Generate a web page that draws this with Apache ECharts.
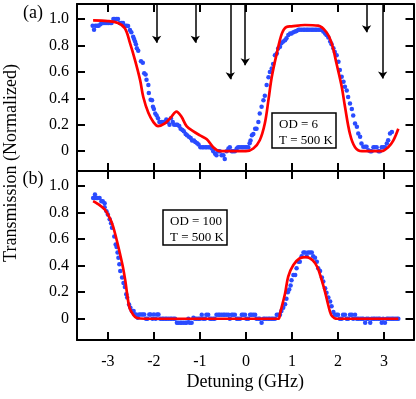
<!DOCTYPE html>
<html>
<head>
<meta charset="utf-8">
<script src="https://cdn.jsdelivr.net/npm/echarts@6/dist/echarts.min.js"></script>
<style>
  html, body { margin: 0; padding: 0; background: #fff; }
  #chart { width: 416px; height: 399px; }
</style>
</head>
<body>
<div id="chart"></div>
<script>
// detuning (GHz), transmission
var xTicks = [-3, -2, -1, 0, 1, 2, 3];
var yTicks = [0, 0.2, 0.4, 0.6, 0.8, 1.0];

// (a) OD = 6 measured points
var topData = [
  [-3.33,0.95],[-3.30,0.92],[-3.27,0.95],[-3.23,0.95],[-3.20,0.95],[-3.16,0.96],[-3.13,0.97],[-3.09,0.97],
  [-3.06,0.97],[-3.02,0.97],[-2.99,0.97],[-2.95,0.97],[-2.92,0.97],[-2.88,1.0],[-2.85,1.0],[-2.81,1.0],
  [-2.78,1.0],[-2.74,0.97],[-2.70,0.97],[-2.67,0.97],[-2.63,0.95],[-2.59,0.95],[-2.56,0.947],[-2.52,0.917],
  [-2.49,0.90],[-2.45,0.866],[-2.43,0.85],[-2.41,0.83],[-2.39,0.81],[-2.37,0.78],[-2.34,0.76],[-2.28,0.68],
  [-2.24,0.67],[-2.21,0.59],[-2.18,0.58],[-2.16,0.54],[-2.12,0.50],[-2.11,0.44],[-2.07,0.39],[-2.04,0.386],
  [-2.02,0.336],[-2.0,0.32],[-1.97,0.285],[-1.94,0.27],[-1.91,0.25],[-1.88,0.22],[-1.84,0.22],[-1.80,0.22],
  [-1.77,0.22],[-1.73,0.24],[-1.70,0.22],[-1.66,0.20],[-1.63,0.25],[-1.59,0.22],[-1.56,0.20],[-1.52,0.20],
  [-1.49,0.20],[-1.45,0.19],[-1.42,0.17],[-1.38,0.16],[-1.35,0.15],[-1.31,0.13],[-1.28,0.12],[-1.24,0.11],
  [-1.20,0.10],[-1.17,0.08],[-1.13,0.08],[-1.10,0.07],[-1.06,0.06],[-1.03,0.05],[-0.99,0.03],[-0.95,0.03],
  [-0.92,0.03],[-0.88,0.03],[-0.85,0.03],[-0.81,0.03],[-0.78,0.03],[-0.74,0.02],[-0.71,0.0],[-0.67,-0.02],
  [-0.64,-0.03],[-0.60,0.0],[-0.57,0.0],[-0.53,-0.03],[-0.49,-0.03],[-0.46,-0.06],[-0.42,0.0],[-0.38,0.02],
  [-0.35,0.03],[-0.31,0.0],[-0.28,0.0],[-0.24,0.0],[-0.20,0.02],[-0.17,0.03],[-0.13,0.03],[-0.09,0.03],
  [-0.06,0.03],[-0.02,0.03],[0.01,0.03],[0.05,0.03],[0.08,0.06],[0.10,0.08],[0.13,0.12],[0.16,0.13],
  [0.20,0.17],[0.23,0.17],[0.27,0.22],[0.30,0.285],[0.34,0.336],[0.38,0.386],[0.41,0.42],[0.45,0.50],
  [0.49,0.56],[0.52,0.60],[0.56,0.626],[0.59,0.66],[0.63,0.727],[0.67,0.74],[0.70,0.777],[0.74,0.79],
  [0.77,0.816],[0.81,0.83],[0.85,0.84],[0.88,0.854],[0.92,0.88],[0.96,0.89],[0.99,0.89],[1.03,0.90],
  [1.07,0.905],[1.10,0.91],[1.14,0.92],[1.17,0.92],[1.21,0.92],[1.25,0.92],[1.28,0.92],[1.32,0.92],
  [1.35,0.92],[1.39,0.92],[1.43,0.92],[1.46,0.92],[1.50,0.92],[1.53,0.92],[1.57,0.92],[1.61,0.92],
  [1.64,0.92],[1.68,0.905],[1.72,0.89],[1.75,0.88],[1.79,0.86],[1.83,0.83],[1.86,0.81],[1.90,0.78],
  [1.93,0.75],[1.97,0.727],[2.01,0.677],[2.04,0.614],[2.08,0.563],[2.12,0.525],[2.15,0.487],[2.19,0.46],
  [2.22,0.41],[2.26,0.36],[2.30,0.32],[2.33,0.27],[2.37,0.21],[2.41,0.184],[2.44,0.134],[2.48,0.11],
  [2.51,0.058],[2.55,0.033],[2.59,0.033],[2.62,0.033],[2.66,0.008],[2.70,0.0],[2.73,0.0],[2.77,0.03],
  [2.80,0.03],[2.84,0.03],[2.88,0.0],[2.91,0.0],[2.95,0.03],[2.99,0.03],[3.02,0.03],[3.06,0.058],
  [3.09,0.083],[3.13,0.134],[3.17,0.146]
];

// (a) model curve
var topFit = [
  [-3.32,0.99],[-3.0,0.985],[-2.78,0.97],[-2.63,0.93],[-2.52,0.82],[-2.41,0.69],[-2.30,0.54],[-2.23,0.41],
  [-2.12,0.29],[-2.01,0.22],[-1.91,0.19],[-1.76,0.21],[-1.62,0.26],[-1.51,0.30],[-1.40,0.26],[-1.29,0.19],
  [-1.14,0.15],[-1.0,0.12],[-0.85,0.09],[-0.71,0.03],[-0.57,0.0],[-0.3,0.0],[0.0,0.0],[0.16,0.02],
  [0.30,0.083],[0.41,0.21],[0.49,0.39],[0.56,0.56],[0.67,0.74],[0.78,0.89],[0.88,0.94],[0.99,0.945],
  [1.28,0.955],[1.57,0.95],[1.75,0.90],[1.86,0.82],[1.97,0.66],[2.08,0.49],[2.15,0.34],[2.26,0.13],
  [2.37,0.03],[2.52,0.0],[2.95,0.0],[3.09,0.03],[3.20,0.08],[3.31,0.17]
];

// (a) arrows: detuning, tip height
var arrowX = [-1.94, -1.10, -0.34, -0.015, 2.62, 2.97];
var arrowTip = [0.82, 0.82, 0.545, 0.65, 0.90, 0.55];

// (b) OD = 100 measured points
var bottomData = [
  [-3.32,0.91],[-3.28,0.936],[-3.28,0.91],[-3.25,0.91],[-3.22,0.91],[-3.18,0.91],[-3.14,0.886],[-3.11,0.886],
  [-3.07,0.87],[-3.07,0.84],[-3.03,0.81],[-3.0,0.785],[-2.96,0.75],[-2.93,0.72],[-2.91,0.685],[-2.86,0.62],
  [-2.83,0.56],[-2.81,0.54],[-2.79,0.50],[-2.77,0.46],[-2.75,0.41],[-2.73,0.36],[-2.69,0.31],[-2.66,0.27],
  [-2.63,0.24],[-2.60,0.184],[-2.58,0.16],[-2.54,0.108],[-2.51,0.083],[-2.48,0.058],[-2.44,0.058],[-2.42,0.033],
  [-2.39,0.033],[-2.35,0.008],[-2.32,0.033],[-2.28,0.033],[-2.24,0.033],[-2.21,0.033],[-2.17,0.0],[-2.14,0.0],
  [-2.10,0.033],[-2.07,0.033],[-2.03,0.0],[-2.0,0.033],[-1.96,0.0],[-1.93,0.033],[-1.90,0.033],[-1.86,0.0],
  [-1.82,0.0],[-1.79,0.0],[-1.75,0.0],[-1.72,0.0],[-1.68,0.0],[-1.64,0.0],[-1.61,0.0],[-1.57,0.0],
  [-1.54,0.0],[-1.50,-0.03],[-1.47,-0.03],[-1.43,-0.03],[-1.40,-0.03],[-1.36,-0.03],[-1.32,-0.03],[-1.29,-0.03],
  [-1.25,0.0],[-1.22,-0.03],[-1.18,-0.03],[-1.14,0.008],[-1.11,0.0],[-1.07,0.0],[-1.03,0.0],[-1.0,0.0],
  [-0.96,0.03],[-0.93,0.0],[-0.89,0.0],[-0.86,0.03],[-0.82,0.03],[-0.78,0.0],[-0.75,0.0],[-0.71,0.0],
  [-0.68,0.0],[-0.64,0.03],[-0.60,0.03],[-0.57,0.03],[-0.53,0.03],[-0.49,0.03],[-0.46,0.03],[-0.42,0.03],
  [-0.38,0.03],[-0.35,0.0],[-0.31,0.03],[-0.28,0.03],[-0.24,0.03],[-0.20,0.0],[-0.17,0.0],[-0.13,0.0],
  [-0.09,0.03],[-0.06,0.03],[-0.02,0.03],[0.01,0.0],[0.05,0.0],[0.09,0.03],[0.12,0.03],[0.16,0.03],
  [0.20,0.03],[0.23,0.0],[0.27,0.0],[0.30,0.0],[0.34,-0.03],[0.38,0.0],[0.41,0.0],[0.45,0.0],
  [0.49,0.0],[0.52,0.0],[0.56,0.0],[0.59,0.0],[0.63,0.0],[0.67,0.03],[0.70,0.03],[0.74,0.03],
  [0.77,0.058],[0.81,0.083],[0.85,0.11],[0.88,0.15],[0.91,0.20],[0.94,0.22],[0.97,0.25],[0.99,0.29],
  [1.03,0.33],[1.07,0.33],[1.10,0.38],[1.14,0.43],[1.17,0.43],[1.21,0.47],[1.25,0.50],[1.28,0.50],
  [1.32,0.47],[1.35,0.50],[1.39,0.50],[1.43,0.50],[1.46,0.47],[1.50,0.46],[1.54,0.43],[1.57,0.38],
  [1.61,0.36],[1.65,0.31],[1.68,0.28],[1.72,0.23],[1.75,0.196],[1.79,0.16],[1.83,0.13],[1.86,0.095],
  [1.90,0.05],[1.93,0.03],[1.97,0.03],[2.0,0.03],[2.04,0.0],[2.08,0.0],[2.11,0.03],[2.15,0.03],
  [2.19,0.0],[2.22,0.0],[2.26,0.03],[2.30,0.03],[2.33,0.0],[2.37,0.03],[2.41,0.0],[2.44,0.0],
  [2.48,0.0],[2.52,0.0],[2.55,0.0],[2.59,-0.03],[2.62,0.0],[2.66,0.0],[2.70,-0.03],[2.73,0.0],
  [2.77,0.0],[2.80,0.0],[2.84,0.0],[2.88,0.0],[2.91,0.0],[2.95,-0.03],[2.98,0.0],[3.02,-0.03],
  [3.06,0.0],[3.09,0.0],[3.13,0.0],[3.17,0.0],[3.20,0.0],[3.24,0.0],[3.28,0.0],[3.31,0.0]
];

// (b) model curve
var bottomFit = [
  [-3.32,0.886],[-3.22,0.866],[-3.07,0.823],[-2.96,0.76],[-2.89,0.70],[-2.82,0.61],[-2.75,0.51],[-2.67,0.385],
  [-2.62,0.284],[-2.58,0.184],[-2.53,0.083],[-2.45,0.03],[-2.38,0.008],[-2.2,0.0],[0.70,0.0],[0.74,0.04],
  [0.80,0.12],[0.85,0.19],[0.92,0.32],[1.03,0.405],[1.17,0.456],[1.32,0.465],[1.45,0.44],[1.55,0.39],
  [1.63,0.31],[1.72,0.20],[1.79,0.10],[1.85,0.03],[1.92,0.005],[2.0,0.0],[3.31,0.0]
];

var FONT = 'Liberation Serif';
var BLUE = '#2a4bff';
var RED = '#ff0000';

var chart = echarts.init(document.getElementById('chart'), null, { renderer: 'canvas' });

function xAx(grid, pos, labels) {
  return {
    type: 'value', gridIndex: grid, position: pos, min: -3.67, max: 3.64,
    splitLine: { show: false },
    axisLine: { onZero: false, lineStyle: { color: '#000', width: 2 } },
    axisTick: { inside: true, length: 8, customValues: xTicks, lineStyle: { color: '#000', width: 2 } },
    axisLabel: { show: labels, customValues: xTicks, margin: 14, color: '#000', fontFamily: FONT, fontSize: 16 },
    name: labels ? 'Detuning (GHz)' : '',
    nameLocation: 'middle', nameGap: 33,
    nameTextStyle: { color: '#000', fontFamily: FONT, fontSize: 18 }
  };
}
function yAx(grid, pos, labels, min, max) {
  return {
    type: 'value', gridIndex: grid, position: pos, min: min, max: max,
    splitLine: { show: false },
    axisLine: { onZero: false, lineStyle: { color: '#000', width: 2 } },
    axisTick: { inside: true, length: 8, customValues: yTicks, lineStyle: { color: '#000', width: 2 } },
    axisLabel: {
      show: labels, customValues: yTicks, margin: 8, color: '#000', fontFamily: FONT, fontSize: 16,
      formatter: function (v) { return v === 0 ? '0' : v.toFixed(1); }
    }
  };
}

var arrowLines = arrowX.map(function (x, i) {
  return [{ coord: [x, 1.114] }, { coord: [x, arrowTip[i]] }];
});

function textBox(x, y, w, h, l1, l2) {
  return {
    type: 'group', x: x, y: y,
    children: [
      { type: 'rect', shape: { x: 0, y: 0, width: w, height: h },
        style: { fill: '#fff', stroke: '#000', lineWidth: 1.5 } },
      { type: 'text', x: 7, y: 12, style: { text: l1, font: '13px ' + FONT, fill: '#000', textVerticalAlign: 'middle' } },
      { type: 'text', x: 7, y: 28, style: { text: l2, font: '13px ' + FONT, fill: '#000', textVerticalAlign: 'middle' } }
    ]
  };
}

chart.setOption({
  animation: false,
  backgroundColor: '#fff',
  grid: [
    { left: 77, right: 2.5, top: 4, height: 167 },
    { left: 77, right: 2.5, top: 171, height: 169 }
  ],
  xAxis: [xAx(0, 'bottom', false), xAx(0, 'top', false), xAx(1, 'bottom', true), xAx(1, 'top', false)],
  yAxis: [yAx(0, 'left', true, -0.15, 1.114), yAx(0, 'right', false, -0.15, 1.114),
          yAx(1, 'left', true, -0.16, 1.113), yAx(1, 'right', false, -0.16, 1.113)],
  series: [
    { type: 'scatter', xAxisIndex: 0, yAxisIndex: 0, data: topData, symbolSize: 4.5,
      itemStyle: { color: BLUE, opacity: 1 }, silent: true },
    { type: 'line', xAxisIndex: 0, yAxisIndex: 0, data: topFit, smooth: 0.35, showSymbol: false,
      lineStyle: { color: RED, width: 2.7 }, z: 3, silent: true,
      markLine: { silent: true, symbol: ['none', 'arrow'], symbolSize: 7, label: { show: false },
        lineStyle: { color: '#000', width: 1.5, type: 'solid' }, emphasis: { disabled: true },
        data: arrowLines } },
    { type: 'scatter', xAxisIndex: 2, yAxisIndex: 2, data: bottomData, symbolSize: 4.5,
      itemStyle: { color: BLUE, opacity: 1 }, silent: true },
    { type: 'line', xAxisIndex: 2, yAxisIndex: 2, data: bottomFit, smooth: 0.35, showSymbol: false,
      lineStyle: { color: RED, width: 2.7 }, z: 3, silent: true }
  ],
  graphic: [
    { type: 'text', x: 33, y: 13, style: { text: '(a)', font: '18px ' + FONT, fill: '#000', textAlign: 'center', textVerticalAlign: 'middle' } },
    { type: 'text', x: 33, y: 179, style: { text: '(b)', font: '18px ' + FONT, fill: '#000', textAlign: 'center', textVerticalAlign: 'middle' } },
    { type: 'text', x: 11, y: 163, rotation: Math.PI / 2,
      style: { text: 'Transmission (Normalized)', font: '18px ' + FONT, fill: '#000', textAlign: 'center', textVerticalAlign: 'middle' } },
    textBox(272, 113, 64, 35, 'OD = 6', 'T = 500 K'),
    textBox(163, 210, 64, 35, 'OD = 100', 'T = 500 K')
  ]
});
</script>
</body>
</html>
